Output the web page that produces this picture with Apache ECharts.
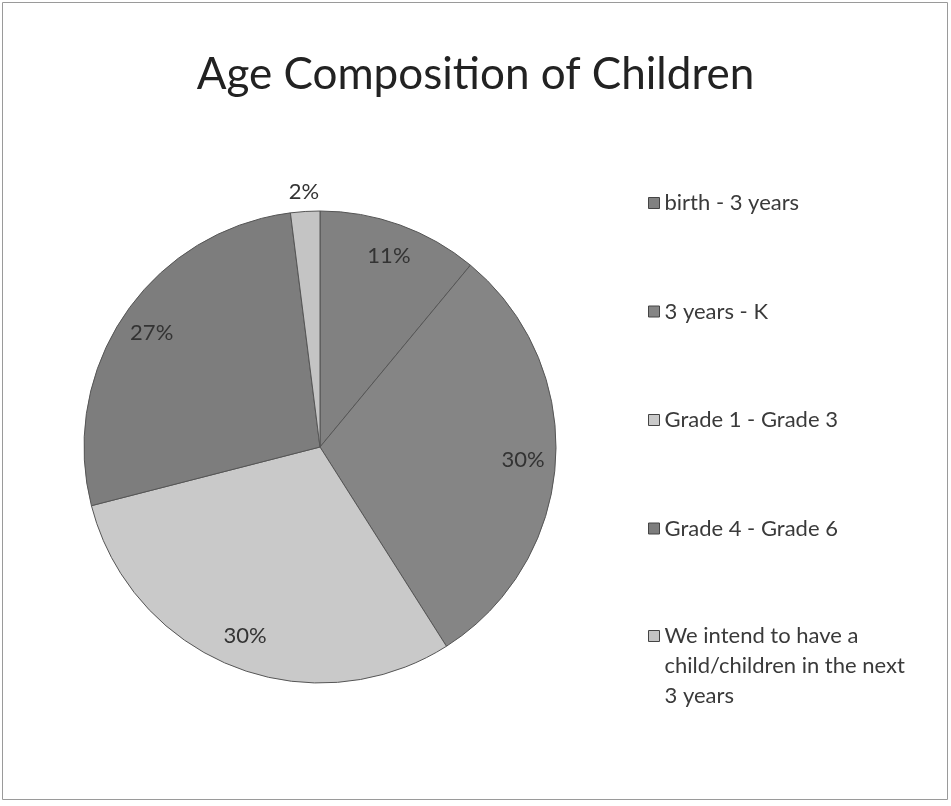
<!DOCTYPE html>
<html>
<head>
<meta charset="utf-8">
<script src="https://cdn.jsdelivr.net/npm/echarts@6/dist/echarts.min.js"></script>
<style>
  html, body { margin: 0; padding: 0; background: #fff; }
  #chart { width: 951px; height: 806px; }
</style>
</head>
<body>
<div id="chart"></div>
<script>
// 儿童年龄构成
const categories = [
  'birth - 3 years',
  '3 years - K',
  'Grade 1 - Grade 3',
  'Grade 4 - Grade 6',
  'We intend to have a\nchild/children in the next\n3 years'
]
const shares = [11, 30, 30, 27, 2]

const chart = echarts.init(document.getElementById('chart'))
const pieData = categories.map((name, i) => ({ name: name, value: shares[i] }))
const ringLabel = {
  show: true,
  position: 'inside',
  formatter: '{c}%',
  fontFamily: 'Lato',
  fontSize: 22,
  color: '#333'
}
const legendBase = {
  orient: 'vertical',
  left: 643,
  itemWidth: 11,
  itemHeight: 11,
  icon: 'rect',
  selectedMode: false,
  itemStyle: { borderColor: '#444', borderWidth: 1 },
  textStyle: { fontFamily: 'Lato', fontSize: 22, color: '#3a3a3a', lineHeight: 30 }
}

const option = {
  animation: false,
  color: ['#818181', '#858585', '#c9c9c9', '#7d7d7d', '#c4c4c4'],
  title: {
    text: 'Age Composition of Children',
    left: 'center',
    top: 48,
    textStyle: { fontFamily: 'Lato', fontSize: 44, fontWeight: 'normal', color: '#222' }
  },
  legend: [
    Object.assign({}, legendBase, {
      top: 183,
      itemGap: 78.5,
      data: categories.slice(0, 4)
    }),
    // 最后一项三行文字，图标对齐第一行
    Object.assign({}, legendBase, {
      top: 556,
      data: categories.slice(4),
      formatter: name => '\n\n' + name
    })
  ],
  graphic: [{
    type: 'rect',
    shape: { x: 2.5, y: 2.5, width: 945, height: 797 },
    style: { fill: 'none', stroke: '#9a9a9a', lineWidth: 1 },
    silent: true
  }],
  series: [
    {
      type: 'pie',
      center: [320, 447],
      radius: 236,
      startAngle: 90,
      clockwise: true,
      data: pieData,
      label: { show: false },
      labelLine: { show: false },
      itemStyle: { borderColor: '#555', borderWidth: 1 },
      emphasis: { disabled: true }
    },
    {
      // 透明环，放大扇区的标签
      type: 'pie',
      center: [320, 447],
      radius: [165, 236],
      startAngle: 90,
      clockwise: true,
      silent: true,
      data: pieData.map(d => d.value < 5 ? { name: d.name, value: d.value, label: { show: false } } : d),
      itemStyle: { color: 'rgba(0,0,0,0)', borderWidth: 0 },
      label: ringLabel,
      labelLine: { show: false },
      emphasis: { disabled: true },
      legendHoverLink: false
    },
    {
      // 外侧透明环，放小扇区的标签
      type: 'pie',
      center: [320, 447],
      radius: [236, 270],
      startAngle: 90,
      clockwise: true,
      silent: true,
      data: pieData.map(d => d.value < 5 ? d : { name: d.name, value: d.value, label: { show: false } }),
      itemStyle: { color: 'rgba(0,0,0,0)', borderWidth: 0 },
      label: ringLabel,
      labelLine: { show: false },
      emphasis: { disabled: true },
      legendHoverLink: false
    }
  ]
}

chart.setOption(option)
</script>
</body>
</html>
